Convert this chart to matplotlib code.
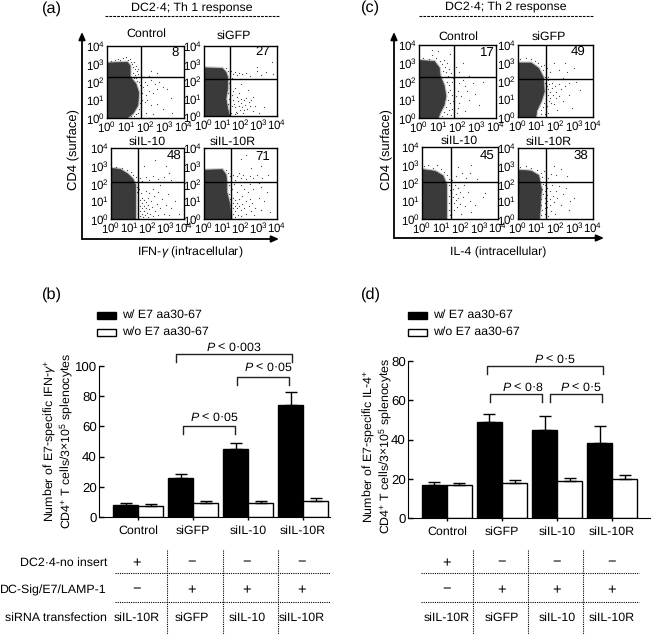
import matplotlib
matplotlib.use('Agg')
import matplotlib.pyplot as plt
import numpy as np

plt.rcParams['font.family'] = ['Liberation Sans', 'DejaVu Sans']
plt.rcParams['mathtext.fontset'] = 'custom'
plt.rcParams['mathtext.rm'] = 'Liberation Sans'
plt.rcParams['mathtext.it'] = 'Liberation Sans:italic'
plt.rcParams['mathtext.bf'] = 'Liberation Sans:bold'
plt.rcParams['font.size'] = 8.9
plt.rcParams['text.hinting'] = 'none'

W, H = 651, 634

# flow plots: gate outlines and stray events, in log decades
blob_a1 = [(0, 3.05), (1.05, 3.1), (1.2, 2.9), (1.2, 2.3), (1.3, 2.15), (1.5, 1.9), (1.65, 1.4), (1.6, 0.7), (1.35, 0.25), (1.05, 0)]
blob_a2 = [(0, 2.75), (1.0, 2.72), (1.2, 2.5), (1.3, 2.2), (1.3, 1.6), (1.2, 1.0), (1.3, 0.4), (1.4, 0)]
blob_a3 = [(0, 2.85), (0.5, 2.8), (0.9, 2.55), (1.2, 2.25), (1.35, 1.9), (1.35, 0)]
blob_a4 = [(0, 2.75), (1.0, 2.78), (1.2, 2.5), (1.25, 2.1), (1.25, 1.5), (1.4, 0.9), (1.5, 0)]
blob_c1 = [(0, 3.15), (0.8, 3.1), (1.05, 2.75), (1.1, 2.3), (1.3, 1.8), (1.4, 1.2), (1.3, 0.7), (1.1, 0.3), (1.0, 0)]
blob_c2 = [(0, 3.0), (0.7, 3.0), (1.1, 2.7), (1.35, 2.2), (1.4, 1.4), (1.25, 0.9), (1.0, 0.35), (0.95, 0)]
blob_c3 = [(0, 2.75), (0.7, 2.65), (1.1, 2.4), (1.3, 1.9), (1.3, 0)]
blob_c4 = [(0, 2.75), (0.7, 2.7), (1.1, 2.45), (1.25, 1.7), (1.15, 0)]

dots_a1 = [(0.2, 3.15), (0.4, 3.2), (0.55, 3.3), (0.7, 3.25), (0.85, 3.35), (1.0, 3.4), (1.1, 3.2), (1.2, 3.3), (1.25, 3.1), (1.3, 3.0),
           (1.35, 2.85), (1.4, 3.1), (1.45, 2.7), (1.5, 2.9), (1.55, 2.6), (1.6, 2.75), (1.35, 2.5), (1.45, 2.4), (1.5, 2.25), (1.6, 2.45),
           (1.7, 2.3), (1.4, 2.2), (1.55, 2.05), (1.65, 2.0), (1.7, 1.85), (1.75, 1.6), (1.8, 1.4), (1.75, 1.15), (1.8, 1.0), (1.7, 0.85),
           (1.75, 0.6), (1.65, 0.5), (1.6, 0.3), (1.5, 0.2), (1.4, 0.1), (1.25, 0.12), (1.85, 1.75), (1.95, 2.0), (2.1, 1.85), (2.3, 2.1),
           (2.5, 1.9), (2.7, 2.0), (2.9, 1.7), (3.1, 1.6), (2.2, 1.5), (2.0, 1.3), (2.4, 1.4), (2.6, 1.6), (1.95, 0.9), (2.1, 1.0),
           (2.3, 0.7), (2.6, 0.8), (2.9, 0.5), (3.3, 1.1), (2.0, 0.3), (2.4, 0.2), (3.4, 0.3), (2.3, 2.6), (2.6, 2.5), (3.0, 2.3), (2.2, 2.35)]
dots_a2 = [(1.2, 2.75), (1.3, 2.6), (1.4, 2.45), (1.45, 2.3), (1.5, 2.6), (1.55, 2.2), (1.6, 2.4), (1.7, 2.5), (1.8, 2.35), (1.9, 2.45),
           (2.1, 2.4), (2.3, 2.45), (2.5, 2.3), (2.9, 2.55), (3.1, 2.35), (3.4, 2.5), (3.8, 2.4), (2.9, 2.8), (1.35, 1.9), (1.4, 1.6),
           (1.3, 1.3), (1.35, 1.0), (1.3, 0.7), (1.4, 0.4), (1.5, 0.2), (1.55, 1.2), (1.6, 0.9), (1.65, 0.7), (1.7, 0.5), (1.75, 0.25),
           (1.8, 1.1), (1.85, 0.85), (1.9, 0.6), (1.95, 0.35), (2.0, 1.0), (2.05, 0.75), (2.1, 0.5), (2.15, 0.2), (2.2, 0.9), (2.25, 0.65),
           (2.3, 1.05), (2.35, 0.4), (2.45, 0.8), (2.5, 0.55), (2.6, 0.9), (2.7, 0.3), (2.8, 0.6), (1.7, 1.6), (2.0, 1.85), (2.4, 1.5),
           (3.0, 0.2), (3.3, 0.5), (1.6, 1.45), (1.9, 1.3), (1.55, 0.55), (1.8, 0.15), (2.2, 0.35), (3.7, 3.1), (2.7, 1.1), (1.7, 0.1)]
dots_a3 = [(0.3, 2.95), (0.6, 2.85), (0.9, 2.75), (1.1, 2.65), (1.2, 2.5), (1.35, 2.35), (1.4, 2.1), (1.4, 1.8), (1.45, 1.5), (1.5, 2.2),
           (1.6, 2.3), (1.7, 2.15), (1.9, 2.35), (2.1, 2.2), (2.3, 2.4), (2.6, 2.25), (2.9, 2.35), (3.3, 2.2), (1.8, 3.0), (2.4, 3.3),
           (3.0, 3.0), (3.2, 2.6), (1.5, 1.2), (1.5, 0.9), (1.5, 0.6), (1.5, 0.3), (1.55, 1.7), (1.6, 1.05), (1.6, 0.75), (1.6, 0.45),
           (1.6, 0.15), (1.7, 1.2), (1.7, 0.9), (1.7, 0.6), (1.7, 0.3), (1.75, 0.1), (1.8, 1.05), (1.8, 0.75), (1.8, 0.45), (1.85, 0.2),
           (1.9, 0.95), (1.9, 0.6), (1.95, 0.35), (2.0, 1.2), (2.0, 0.8), (2.05, 0.1), (2.1, 0.55), (2.15, 0.3), (2.2, 1.0), (2.25, 0.7),
           (2.3, 0.15), (2.35, 1.3), (2.4, 0.45), (2.5, 0.85), (2.55, 0.25), (2.6, 1.5), (2.7, 0.6), (2.8, 1.1), (2.9, 0.3), (3.0, 0.8),
           (3.1, 1.4), (3.2, 0.2), (3.3, 0.6), (3.5, 1.0), (3.7, 0.3), (1.9, 1.6), (2.3, 1.7), (2.7, 1.9), (1.65, 1.45), (2.1, 1.45)]
dots_a4 = [(1.2, 2.75), (1.3, 2.6), (1.4, 2.45), (1.5, 2.3), (1.6, 2.5), (1.7, 2.2), (1.8, 2.4), (1.9, 2.6), (2.0, 2.3), (2.15, 2.5),
           (2.3, 2.25), (2.5, 2.45), (2.7, 2.3), (2.9, 2.5), (3.2, 2.3), (3.5, 2.5), (2.0, 3.4), (2.3, 3.6), (2.6, 2.9), (3.1, 3.0),
           (1.35, 1.9), (1.35, 1.4), (1.45, 1.1), (1.45, 0.8), (1.5, 0.5), (1.5, 0.2), (1.55, 1.7), (1.6, 1.2), (1.6, 0.9), (1.6, 0.6),
           (1.6, 0.3), (1.7, 1.05), (1.7, 0.75), (1.7, 0.45), (1.7, 0.1), (1.8, 1.5), (1.8, 0.9), (1.8, 0.6), (1.85, 0.25), (1.9, 1.15),
           (1.9, 0.75), (2.0, 1.9), (2.0, 0.5), (2.05, 0.15), (2.1, 1.3), (2.1, 0.85), (2.2, 1.7), (2.2, 0.6), (2.3, 1.0), (2.3, 0.3),
           (2.4, 1.5), (2.45, 0.75), (2.5, 1.1), (2.55, 0.45), (2.65, 0.9), (2.7, 1.7), (2.75, 0.2), (2.8, 0.6), (3.0, 1.2), (3.1, 1.8),
           (3.1, 0.5), (3.3, 1.0), (3.45, 1.5), (3.6, 0.4), (1.65, 2.0), (2.5, 1.95), (1.95, 2.1), (3.0, 2.05)]
dots_c1 = [(0.2, 3.3), (0.5, 3.25), (0.7, 3.45), (0.9, 3.3), (1.1, 3.1), (1.2, 2.95), (1.3, 3.2), (1.35, 2.8), (1.45, 3.0), (1.25, 2.55),
           (1.4, 2.5), (1.55, 2.7), (1.35, 2.25), (1.5, 2.3), (1.65, 2.45), (1.75, 2.2), (1.45, 2.0), (1.55, 1.8), (1.7, 1.95), (1.5, 1.4),
           (1.6, 1.55), (1.7, 1.25), (1.5, 1.0), (1.6, 0.8), (1.75, 0.95), (1.4, 0.6), (1.55, 0.45), (1.7, 0.5), (1.3, 0.35), (1.45, 0.2),
           (1.2, 0.1), (1.65, 0.15), (1.95, 0.3), (0.7, 3.7), (1.0, 3.65), (1.6, 3.5), (2.1, 2.5), (2.3, 2.1), (2.6, 2.3), (2.1, 1.9),
           (2.4, 1.75), (2.5, 1.5), (2.8, 1.9), (2.0, 1.5), (2.2, 1.2), (2.6, 1.0), (2.9, 1.3), (3.1, 0.7), (2.1, 0.8), (2.4, 0.4),
           (3.3, 2.0), (1.9, 2.8), (2.3, 3.0), (1.9, 1.2), (2.0, 0.55)]
dots_c2 = [(0.1, 3.25), (0.4, 3.3), (0.7, 3.2), (0.9, 3.1), (1.05, 3.0), (1.2, 2.85), (1.35, 2.6), (1.4, 2.9), (1.5, 2.45), (1.55, 2.7),
           (1.7, 2.5), (1.45, 2.2), (1.6, 2.25), (1.75, 2.1), (1.45, 1.9), (1.55, 1.7), (1.5, 1.4), (1.6, 1.2), (1.5, 1.0), (1.4, 0.8),
           (1.35, 0.55), (1.25, 0.4), (1.2, 0.15), (1.6, 1.55), (1.65, 1.85), (1.7, 1.4), (1.7, 1.05), (1.75, 0.8), (1.8, 1.6), (1.85, 1.25),
           (1.8, 1.9), (1.95, 1.7), (2.0, 1.4), (2.0, 1.05), (2.05, 2.1), (2.2, 1.85), (2.3, 1.55), (2.4, 2.15), (2.5, 1.75), (2.7, 1.9),
           (2.9, 2.1), (3.1, 1.95), (2.2, 1.15), (2.4, 0.9), (2.7, 1.2), (1.55, 0.6), (1.5, 0.3), (1.9, 0.7), (2.1, 0.4), (2.9, 0.5),
           (2.2, 2.6), (2.6, 2.5), (3.0, 2.7), (1.9, 3.0), (2.5, 3.0), (3.3, 1.5), (1.6, 0.2), (1.45, 0.15), (1.65, 0.9), (1.6, 2.05)]
dots_c3 = [(0.1, 2.95), (0.3, 3.0), (0.6, 2.85), (0.8, 3.0), (1.0, 2.8), (1.15, 2.6), (1.3, 2.45), (1.4, 2.25), (1.5, 2.5), (1.6, 2.15),
           (1.4, 1.9), (1.45, 1.6), (1.4, 1.3), (1.4, 0.9), (1.4, 0.5), (1.45, 0.2), (1.55, 1.85), (1.55, 1.45), (1.55, 1.1), (1.55, 0.7),
           (1.55, 0.3), (1.65, 1.65), (1.65, 1.25), (1.7, 0.9), (1.7, 0.5), (1.75, 1.9), (1.8, 1.4), (1.8, 1.05), (1.85, 0.65), (1.9, 1.75),
           (1.9, 1.15), (2.0, 1.5), (2.0, 0.85), (2.05, 0.3), (2.15, 1.2), (2.2, 1.9), (2.25, 0.7), (2.4, 1.5), (2.5, 1.0), (2.6, 0.4),
           (2.3, 2.3), (2.5, 2.55), (1.9, 2.9), (2.6, 3.0), (2.9, 2.2), (3.2, 1.2), (3.3, 1.45), (2.8, 0.8), (1.8, 2.4), (2.1, 2.55)]
dots_c4 = [(0.1, 2.95), (0.4, 3.0), (0.7, 2.9), (1.0, 2.75), (1.2, 2.6), (1.3, 2.35), (1.4, 2.7), (1.5, 2.5), (1.6, 2.3), (1.75, 2.55),
           (1.35, 2.0), (1.3, 1.7), (1.35, 1.4), (1.25, 1.1), (1.25, 0.8), (1.3, 0.5), (1.25, 0.2), (1.45, 1.9), (1.45, 1.55), (1.45, 1.2),
           (1.45, 0.9), (1.45, 0.6), (1.45, 0.3), (1.55, 1.75), (1.55, 1.35), (1.55, 1.0), (1.55, 0.7), (1.6, 0.15), (1.7, 1.55), (1.7, 1.15),
           (1.7, 0.8), (1.75, 0.45), (1.8, 1.9), (1.85, 1.3), (1.9, 0.95), (1.95, 0.3), (2.0, 1.6), (2.1, 1.2), (2.2, 1.85), (2.3, 0.8),
           (2.4, 1.4), (2.55, 1.75), (2.7, 0.5), (2.0, 2.5), (2.3, 2.8), (2.6, 2.45), (2.9, 2.1), (1.9, 3.0), (3.0, 1.2), (2.75, 1.0)]

# bar charts
groups = ['Control', 'siGFP', 'siIL-10', 'siIL-10R']
th1_with = [8, 26, 45, 74]
th1_with_top = [9.3, 28.8, 49.3, 83]
th1_without = [7.2, 9, 9, 10.5]
th1_without_top = [8.3, 10.3, 10.3, 12.3]
th2_with = [17, 49, 45, 38]
th2_with_top = [18.3, 53, 52, 47]
th2_without = [17, 18, 19, 20]
th2_without_top = [18, 19.5, 20.5, 22]

row_names = ['DC2·4-no insert', 'DC-Sig/E7/LAMP-1', 'siRNA transfection']
row_insert = ['+', '−', '−', '−']
row_sig = ['−', '+', '+', '+']
row_sirna = ['siIL-10R', 'siGFP', 'siIL-10', 'siIL-10R']

fig = plt.figure(figsize=(W / 100, H / 100), dpi=100)

def axes_px(x0, y0, x1, y1):
    return fig.add_axes([x0 / W, 1 - y1 / H, (x1 - x0) / W, (y1 - y0) / H])

# overlay in pixel coordinates for labels, brackets and the table
page = fig.add_axes([0, 0, 1, 1], zorder=5)
page.set_xlim(0, W)
page.set_ylim(H, 0)
page.axis('off')
page.patch.set_alpha(0)

def put(x, y, s, **kw):
    kw.setdefault('ha', 'center')
    kw.setdefault('va', 'center')
    page.text(x, y, s, **kw)

def flow(rect, cross, blob, dots, name, name_pos, pct, pct_pos):
    ax = axes_px(*rect)
    ax.set_xlim(0, 4)
    ax.set_ylim(0, 4)
    bx, by = zip(*blob)
    # soft grey fringe round the dense population
    ax.fill([0] + list(bx), [0] + list(by), fc='#3a3a3a', ec='#c4c4c4', lw=2.2)
    ax.fill([0] + list(bx), [0] + list(by), fc='#3a3a3a', ec='#3a3a3a', lw=0.5)
    dx, dy = zip(*dots)
    ax.scatter(dx, dy, s=0.8, c='#444444', lw=0)
    ax.axvline((cross[0] - rect[0]) / (rect[2] - rect[0]) * 4, c='k', lw=1)
    ax.axhline((rect[3] - cross[1]) / (rect[3] - rect[1]) * 4, c='k', lw=1)
    labs = ['$\\mathregular{10^{%d}}$' % i for i in range(5)]
    ax.set_xticks(range(5))
    ax.set_yticks(range(5))
    ax.set_xticklabels(labs, fontsize=8.3)
    ax.set_yticklabels(labs, fontsize=8.3)
    ax.tick_params(length=0, pad=1.5)
    for s in ax.spines.values():
        s.set_linewidth(1)
    put(name_pos[0], name_pos[1], name)
    put(pct_pos[0], pct_pos[1], pct, fontsize=9.5)

flow((107, 46, 184, 118), (141, 77), blob_a1, dots_a1, 'Control', (146, 34), '8', (175, 53))
flow((204, 46, 277, 116), (230, 79), blob_a2, dots_a2, 'siGFP', (234, 36), '27', (263, 52))
flow((111, 148, 184, 219), (138, 182), blob_a3, dots_a3, 'siIL-10', (147, 142), '48', (174, 156))
flow((204, 148, 277, 219), (231, 182), blob_a4, dots_a4, 'siIL-10R', (233, 142), '71', (263, 157))
flow((419, 45, 496, 118), (454, 77), blob_c1, dots_c1, 'Control', (458, 37), '17', (487, 53))
flow((518, 45, 593, 117), (546, 79), blob_c2, dots_c2, 'siGFP', (549, 37), '49', (578, 52))
flow((422, 147, 498, 219), (451, 182), blob_c3, dots_c3, 'siIL-10', (459, 141), '45', (487, 157))
flow((518, 148, 593, 219), (546, 182), blob_c4, dots_c4, 'siIL-10R', (549, 142), '38', (581, 156))

def arrows(x, ybase, xend):
    for tip in [(x, 32), (xend, ybase)]:
        page.annotate('', xy=tip, xytext=(x, ybase),
                      arrowprops=dict(arrowstyle='-|>,head_length=0.5,head_width=0.22', color='k', lw=1.3,
                                      shrinkA=0, shrinkB=0))

arrows(82, 239, 279)
arrows(394, 238, 604)
put(74, 150, 'CD4 (surface)', rotation=90, fontsize=9.4)
put(387, 150, 'CD4 (surface)', rotation=90, fontsize=9.4)
put(190, 252, 'IFN-$\\mathit{\\gamma}$ (intracellular)', fontsize=8.9)
put(498, 252, 'IL-4 (intracellular)', fontsize=8.9)

put(192, 8, 'DC2·4; Th 1 response')
put(506, 7, 'DC2·4; Th 2 response')
page.plot([105, 280], [16, 16], c='k', lw=0.8, ls=(0, (2.5, 1)))
page.plot([419, 594], [16, 16], c='k', lw=0.8, ls=(0, (2.5, 1)))

for x, y, s in [(52, 9, '(a)'), (52, 295, '(b)'), (371, 8, '(c)'), (371, 295, '(d)')]:
    put(x, y, s, fontsize=11.8)

def bars(rect, centre0, ymax, ystep, with_v, with_top, without_v, without_top):
    ax = axes_px(*rect)
    ax.set_xlim((rect[0] - centre0) / 55, (rect[2] - centre0) / 55)
    ax.set_ylim(0, ymax)
    pos = np.arange(4)
    w = 25 / 55
    ax.bar(pos - w, with_v, w, align='edge', color='k', edgecolor='k', lw=1)
    ax.bar(pos, without_v, w, align='edge', color='w', edgecolor='k', lw=1)
    ax.errorbar(pos - w / 2, with_v, yerr=[np.zeros(4), np.array(with_top) - with_v], fmt='none',
                ecolor='k', elinewidth=1, capsize=4, capthick=1)
    ax.errorbar(pos + w / 2, without_v, yerr=[np.zeros(4), np.array(without_top) - without_v], fmt='none',
                ecolor='k', elinewidth=1, capsize=4, capthick=1)
    ax.set_yticks(np.arange(0, ymax + 1, ystep))
    ax.set_xticks(pos)
    ax.set_xticklabels(groups)
    ax.tick_params(axis='y', direction='in', length=3.6, width=1, pad=1.5, labelsize=9.5)
    ax.tick_params(axis='x', length=2, width=1, pad=4, labelsize=8.9)
    ax.spines['top'].set_visible(False)
    ax.spines['right'].set_visible(False)
    ax.patch.set_alpha(0)

bars((99, 366, 330, 517), 138, 100, 20, th1_with, th1_with_top, th1_without, th1_without_top)
bars((408, 361, 651, 518), 447, 80, 20, th2_with, th2_with_top, th2_without, th2_without_top)

put(50, 441, 'Number of E7-specific IFN-$\\mathit{\\gamma}^{+}$', rotation=90)
put(66, 441, 'CD4$^{+}$ T cells/3×10$^{5}$ splenocytes', rotation=90)
put(369, 446, 'Number of E7-specific IL-4$^{+}$', rotation=90)
put(385, 446, 'CD4$^{+}$ T cells/3×10$^{5}$ splenocytes', rotation=90)

def legend(x):
    for y0, c in [(312, 'k'), (329, 'w')]:
        page.fill([x, x + 19, x + 19, x], [y0, y0, y0 + 7, y0 + 7], fc=c, ec='k', lw=1)
    put(x + 25, 315, 'w/ E7 aa30-67', ha='left')
    put(x + 25, 332, 'w/o E7 aa30-67', ha='left')

legend(97)
legend(408)

def bracket(x0, x1, y, label, lx, ly):
    page.plot([x0, x0, x1, x1], [y + 8, y, y, y + 8], c='#222222', lw=1)
    put(lx, ly, '$\\mathit{P}$ < ' + label)

bracket(176, 292, 354, '0·003', 234, 347)
bracket(237, 289, 377, '0·05', 268, 367)
bracket(183, 235, 426, '0·05', 214, 417)
bracket(487, 603, 366, '0·5', 555, 359)
bracket(490, 542, 394, '0·8', 523, 387)
bracket(550, 602, 394, '0·5', 581, 387)

def table(centres, xl, xr, vlines, with_names):
    for y in [573, 602]:
        page.plot([xl, xr], [y, y], c='k', lw=0.8, ls=(0, (1, 1)))
    for x in vlines:
        page.plot([x, x], [550, 634], c='k', lw=0.8, ls=(0, (1, 1)))
    for i, c in enumerate(centres):
        put(c, 563, row_insert[i], fontsize=10.5)
        put(c, 590, row_sig[i], fontsize=10.5)
        put(c, 618, row_sirna[i])
    if with_names:
        for y, s in zip([563, 590, 618], row_names):
            put(107, y, s, ha='right')

table([137, 192, 247, 302], 115, 330, [167, 223, 278], True)
table([447, 502, 557, 612], 421, 639, [473, 528, 583], False)

plt.savefig('out.png', dpi=100)
